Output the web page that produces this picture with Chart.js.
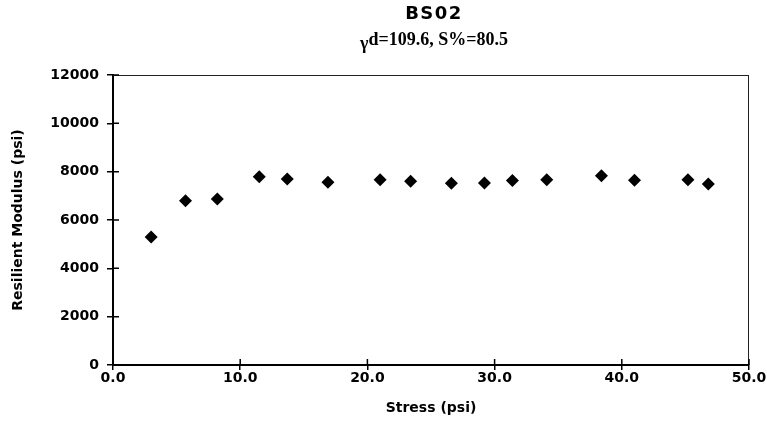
<!DOCTYPE html>
<html>
<head>
<meta charset="utf-8">
<script src="https://cdn.jsdelivr.net/npm/chart.js@4/dist/chart.umd.min.js"></script>
<style>
    html, body { margin: 0; padding: 0; background: #fff; }
    #wrap { width: 767px; height: 434px; }
</style>
</head>
<body>
<div id="wrap"><canvas id="grafico"></canvas></div>
<script>
// ===================== DADOS =====================
const stress = [3.0, 5.7, 8.2, 11.5, 13.7, 16.9, 21.0, 23.4, 26.6, 29.2, 31.4, 34.1, 38.4, 41.0, 45.2, 46.8];
const modulus = [5300, 6800, 6870, 7790, 7700, 7560, 7670, 7600, 7520, 7530, 7630, 7670, 7830, 7650, 7670, 7490];

const xTicks = [0, 10, 20, 30, 40, 50];
const yTicks = [0, 2000, 4000, 6000, 8000, 10000, 12000];

const pontos = stress.map((s, i) => ({ x: s, y: modulus[i] }));

// ===================== PLUGINS =====================
// titulo + subtitulo (com o gama rebaixado)
const titulos = {
    id: "titulos",
    afterDraw(chart) {
        const ctx = chart.ctx;
        ctx.save();
        ctx.fillStyle = "#000";
        ctx.textBaseline = "middle";
        ctx.textAlign = "center";
        ctx.font = "bold 18px 'DejaVu Sans', Arial, sans-serif";
        ctx.letterSpacing = "1.5px";
        ctx.fillText("BS02", 434, 14);
        ctx.letterSpacing = "0px";

        ctx.font = "bold 18px 'Liberation Serif', 'Times New Roman', serif";
        const resto = "d=109.6, S%=80.5";
        const wG = ctx.measureText("γ").width;
        const wR = ctx.measureText(resto).width;
        const x0 = 434 - (wG + wR) / 2;
        ctx.textAlign = "left";
        ctx.fillText("γ", x0, 44);
        ctx.fillText(resto, x0 + wG, 40);
        ctx.restore();
    }
};

// moldura fina e marcas que cruzam os eixos
const moldura = {
    id: "moldura",
    afterDraw(chart) {
        const { ctx, chartArea: a, scales } = chart;
        ctx.save();
        ctx.strokeStyle = "#222";
        ctx.lineWidth = 1;
        ctx.beginPath();
        ctx.moveTo(a.left, a.top + 0.5);
        ctx.lineTo(a.right, a.top + 0.5);
        ctx.moveTo(a.right - 0.5, a.top);
        ctx.lineTo(a.right - 0.5, a.bottom);
        ctx.stroke();

        ctx.strokeStyle = "#000";
        ctx.lineWidth = 1.5;
        ctx.beginPath();
        yTicks.forEach(v => {
            const py = scales.y.getPixelForValue(v);
            ctx.moveTo(a.left, py);
            ctx.lineTo(a.left + 6, py);
        });
        xTicks.forEach(v => {
            const px = scales.x.getPixelForValue(v);
            ctx.moveTo(px, a.bottom);
            ctx.lineTo(px, a.bottom - 6);
        });
        ctx.stroke();
        ctx.restore();
    }
};

// ===================== GRAFICO =====================
const fonteEixo = { family: "'DejaVu Sans', Arial, sans-serif", size: 14, weight: "bold" };

new Chart(document.getElementById("grafico"), {
    type: "scatter",
    data: {
        datasets: [{
            data: pontos,
            pointStyle: "rectRot",
            pointRadius: 6.5,
            pointHoverRadius: 6.5,
            backgroundColor: "#000",
            borderColor: "#000",
            borderWidth: 0
        }]
    },
    plugins: [titulos, moldura],
    options: {
        responsive: true,
        maintainAspectRatio: false,
        animation: false,
        layout: { padding: { top: 75, right: 18, left: 0, bottom: 0 } },
        plugins: {
            legend: { display: false },
            tooltip: { enabled: false }
        },
        scales: {
            x: {
                type: "linear",
                min: 0,
                max: 50,
                afterBuildTicks: s => { s.ticks = xTicks.map(v => ({ value: v })); },
                afterFit: s => { s.height = 69; },
                border: { display: true, color: "#000", width: 2 },
                grid: { drawOnChartArea: false, drawTicks: true, tickLength: 5, color: "#000", lineWidth: 1.5 },
                ticks: {
                    color: "#000",
                    font: fonteEixo,
                    padding: 0,
                    maxRotation: 0,
                    callback: v => v.toFixed(1)
                },
                title: {
                    display: true,
                    text: "Stress (psi)",
                    color: "#000",
                    font: fonteEixo,
                    padding: { top: 4, bottom: 17 }
                }
            },
            y: {
                type: "linear",
                min: 0,
                max: 12000,
                afterBuildTicks: s => { s.ticks = yTicks.map(v => ({ value: v })); },
                afterFit: s => { s.width = 113; },
                border: { display: true, color: "#000", width: 2 },
                grid: { drawOnChartArea: false, drawTicks: true, tickLength: 6, color: "#000", lineWidth: 1.5 },
                ticks: {
                    color: "#000",
                    font: fonteEixo,
                    padding: 8,
                    callback: v => String(v)
                },
                title: {
                    display: true,
                    text: "Resilient Modulus (psi)",
                    color: "#000",
                    font: fonteEixo,
                    padding: { top: 10, bottom: 4 }
                }
            }
        }
    }
});
</script>
</body>
</html>
